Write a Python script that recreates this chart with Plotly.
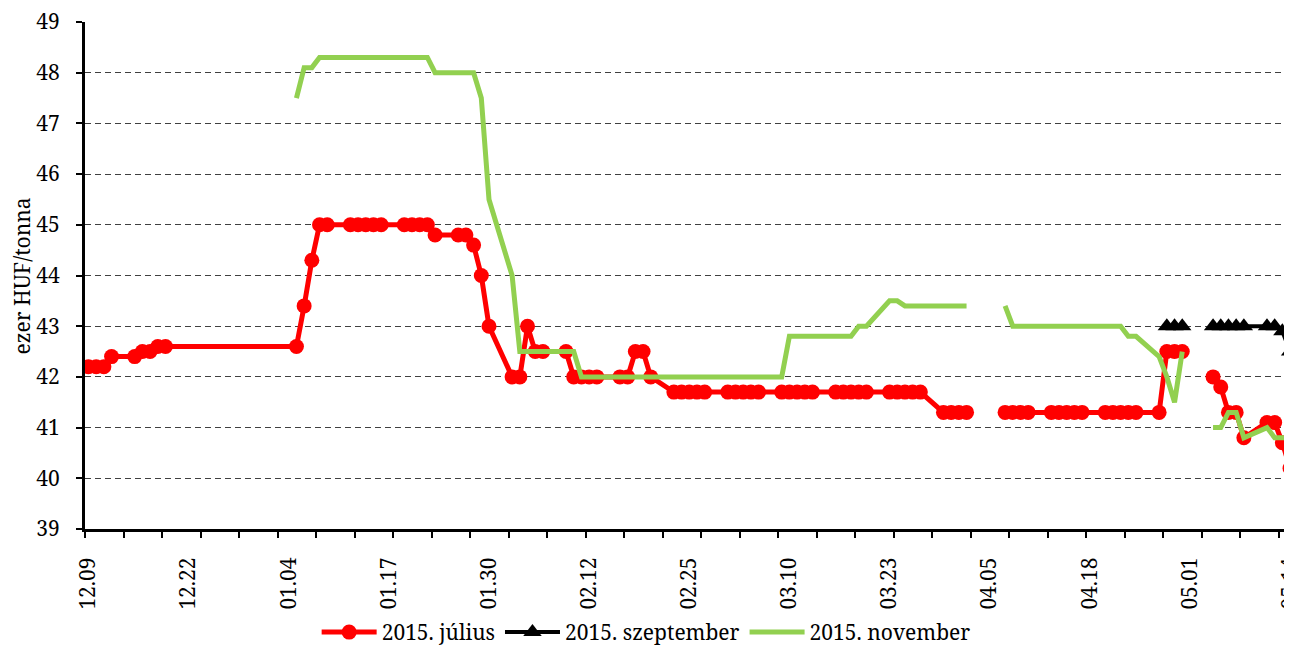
import plotly.graph_objects as go

# Trading days (blank values = holiday gaps)
dates = [
    # Dec 2014
    "2014-12-09", "2014-12-10", "2014-12-11", "2014-12-12", "2014-12-15", "2014-12-16", "2014-12-17", "2014-12-18", "2014-12-19",
    # Jan 2015
    "2015-01-05", "2015-01-06", "2015-01-07", "2015-01-08", "2015-01-09", "2015-01-12", "2015-01-13", "2015-01-14", "2015-01-15", "2015-01-16",
    "2015-01-19", "2015-01-20", "2015-01-21", "2015-01-22", "2015-01-23", "2015-01-26", "2015-01-27", "2015-01-28", "2015-01-29", "2015-01-30",
    # Feb
    "2015-02-02", "2015-02-03", "2015-02-04", "2015-02-05", "2015-02-06", "2015-02-09", "2015-02-10", "2015-02-11", "2015-02-12", "2015-02-13",
    "2015-02-16", "2015-02-17", "2015-02-18", "2015-02-19", "2015-02-20", "2015-02-23", "2015-02-24", "2015-02-25", "2015-02-26", "2015-02-27",
    # Mar
    "2015-03-02", "2015-03-03", "2015-03-04", "2015-03-05", "2015-03-06", "2015-03-09", "2015-03-10", "2015-03-11", "2015-03-12", "2015-03-13",
    "2015-03-16", "2015-03-17", "2015-03-18", "2015-03-19", "2015-03-20", "2015-03-23", "2015-03-24", "2015-03-25", "2015-03-26", "2015-03-27",
    "2015-03-30", "2015-03-31",
    # Apr
    "2015-04-01", "2015-04-02", "2015-04-03", "2015-04-06", "2015-04-07", "2015-04-08", "2015-04-09", "2015-04-10", "2015-04-13", "2015-04-14",
    "2015-04-15", "2015-04-16", "2015-04-17", "2015-04-20", "2015-04-21", "2015-04-22", "2015-04-23", "2015-04-24", "2015-04-27", "2015-04-28",
    "2015-04-29", "2015-04-30",
    # May
    "2015-05-01", "2015-05-04", "2015-05-05", "2015-05-06", "2015-05-07", "2015-05-08", "2015-05-11", "2015-05-12", "2015-05-13", "2015-05-14",
]

julius = [
    42.2, 42.2, 42.2, 42.4, 42.4, 42.5, 42.5, 42.6, 42.6,
    42.6, 43.4, 44.3, 45.0, 45.0, 45.0, 45.0, 45.0, 45.0, 45.0,
    45.0, 45.0, 45.0, 45.0, 44.8, 44.8, 44.8, 44.6, 44.0, 43.0,
    42.0, 42.0, 43.0, 42.5, 42.5, 42.5, 42.0, 42.0, 42.0, 42.0,
    42.0, 42.0, 42.5, 42.5, 42.0, 41.7, 41.7, 41.7, 41.7, 41.7,
    41.7, 41.7, 41.7, 41.7, 41.7, 41.7, 41.7, 41.7, 41.7, 41.7,
    41.7, 41.7, 41.7, 41.7, 41.7, 41.7, 41.7, 41.7, 41.7, 41.7,
    41.3, 41.3,
    41.3, 41.3, None, None, 41.3, 41.3, 41.3, 41.3, 41.3, 41.3,
    41.3, 41.3, 41.3, 41.3, 41.3, 41.3, 41.3, 41.3, 41.3, 42.5,
    42.5, 42.5,
    None, 42.0, 41.8, 41.3, 41.3, 40.8, 41.1, 41.1, 40.7, 40.2,
]

szeptember = [None] * 71 + [
    None, None, None, None, None, None, None, None, None, None,
    None, None, None, None, None, None, None, None, None, 43.0,
    43.0, 43.0,
    None, 43.0, 43.0, 43.0, 43.0, 43.0, 43.0, 43.0, 42.9, 42.5,
]

november = [
    None, None, None, None, None, None, None, None, None,
    47.5, 48.1, 48.1, 48.3, 48.3, 48.3, 48.3, 48.3, 48.3, 48.3,
    48.3, 48.3, 48.3, 48.3, 48.0, 48.0, 48.0, 48.0, 47.5, 45.5,
    44.0, 42.5, 42.5, 42.5, 42.5, 42.5, 42.5, 42.0, 42.0, 42.0,
    42.0, 42.0, 42.0, 42.0, 42.0, 42.0, 42.0, 42.0, 42.0, 42.0,
    42.0, 42.0, 42.0, 42.0, 42.0, 42.0, 42.8, 42.8, 42.8, 42.8,
    42.8, 42.8, 42.8, 43.0, 43.0, 43.5, 43.5, 43.4, 43.4, 43.4,
    43.4, 43.4,
    43.4, 43.4, None, None, 43.4, 43.0, 43.0, 43.0, 43.0, 43.0,
    43.0, 43.0, 43.0, 43.0, 43.0, 43.0, 42.8, 42.8, 42.4, 42.0,
    41.5, 42.5,
    None, 41.0, 41.0, 41.3, 41.3, 40.8, 41.0, 40.8, 40.8, 40.8,
]

series_names = ["2015. július", "2015. szeptember", "2015. november"]
y_ticks = list(range(39, 50))
y_title = "ezer HUF/tonna"

FONT = "Noto Serif"
FS = 21
DAY = 86400000

fig = go.Figure()
fig.add_trace(go.Scatter(
    x=dates, y=julius, name=series_names[0], mode="lines+markers",
    line=dict(color="#FF0000", width=5),
    marker=dict(symbol="circle", size=15, color="#FF0000"),
    connectgaps=False,
))
fig.add_trace(go.Scatter(
    x=dates, y=szeptember, name=series_names[1], mode="lines+markers",
    line=dict(color="#000000", width=4),
    marker=dict(symbol="triangle-up", size=16, color="#000000"),
    connectgaps=False,
))
fig.add_trace(go.Scatter(
    x=dates, y=november, name=series_names[2], mode="lines",
    line=dict(color="#92D050", width=5),
    connectgaps=False,
))

fig.update_layout(
    template="none",
    width=1284, height=639,
    margin=dict(l=77, r=0, t=14, b=118, autoexpand=False),
    paper_bgcolor="white", plot_bgcolor="white",
    font=dict(family=FONT, size=FS, color="black"),
    showlegend=True,
    legend=dict(
        orientation="h", xref="container", x=0.497, xanchor="center",
        yref="paper", y=-0.204, yanchor="middle",
        font=dict(family=FONT, size=FS, color="black"),
        itemwidth=55, tracegroupgap=0, bgcolor="rgba(0,0,0,0)",
    ),
    xaxis=dict(
        type="date", automargin=False,
        range=["2014-12-08 13:12", "2015-05-14 06:00"],
        tick0="2014-12-09", dtick=13 * DAY, tickformat="%m.%d",
        tickangle=-90, ticklabeloverflow="allow",
        ticks="outside", ticklen=17, tickcolor="rgba(0,0,0,0)",
        showline=True, linecolor="black", linewidth=3,
        showgrid=False, zeroline=False,
        minor=dict(ticks="outside", tick0="2014-12-08 13:12", dtick=5 * DAY,
                   ticklen=6, tickwidth=2, tickcolor="black", showgrid=False),
        tickfont=dict(family=FONT, size=FS, color="black"),
    ),
    yaxis=dict(
        automargin=False,
        range=[39, 49], tickvals=y_ticks, ticklabeloverflow="allow",
        ticks="outside", ticklen=6, tickwidth=2, tickcolor="black",
        ticklabelstandoff=12,
        showline=True, linecolor="black", linewidth=3,
        showgrid=True, gridcolor="#404040", gridwidth=1, griddash="6px,4px",
        zeroline=False,
        tickfont=dict(family=FONT, size=FS, color="black"),
    ),
    annotations=[dict(
        text=y_title, xref="paper", yref="paper", x=-0.0522, y=0.5,
        textangle=-90, showarrow=False, xanchor="center", yanchor="middle",
        font=dict(family=FONT, size=FS, color="black"),
    )],
)

fig.write_html("out.html")
